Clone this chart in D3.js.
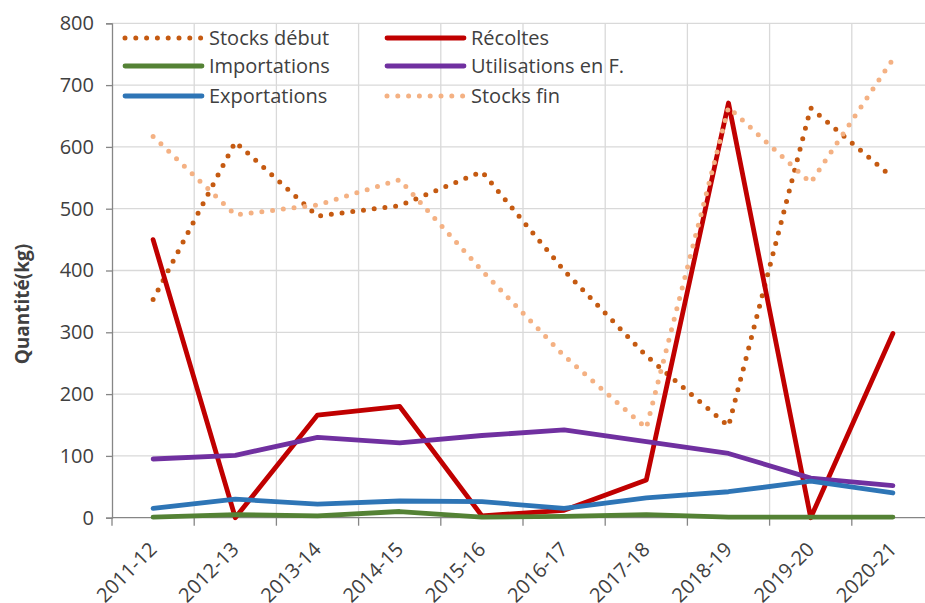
<!DOCTYPE html>
<html>
<head>
<meta charset="utf-8">
<script src="https://cdn.jsdelivr.net/npm/d3@7"></script>
<style>
  body { margin: 0; background: #fff; }
  text { font-family: "Open Sans", sans-serif; fill: #404040; }
</style>
</head>
<body>
<svg width="925" height="603"></svg>
<script>
var years = ['2011-12', '2012-13', '2013-14', '2014-15', '2015-16', '2016-17', '2017-18', '2018-19', '2019-20', '2020-21'];

var stocksDebut = [353, 608, 488, 505, 560, 400, 262, 148, 663, 550];
var recoltes = [450, 0, 166, 180, 3, 12, 61, 671, 0, 298];
var importations = [1, 5, 3, 10, 1, 2, 5, 1, 1, 1];
var utilisations = [95, 101, 130, 121, 133, 142, 123, 104, 64, 52];
var exportations = [15, 30, 22, 27, 26, 15, 32, 42, 59, 40];
var stocksFin = [617, 490, 506, 547, 400, 262, 145, 664, 542, 742];

var yTicks = [0, 100, 200, 300, 400, 500, 600, 700, 800];

var series = [
  { name: 'Stocks début', values: stocksDebut, color: '#c55a11', dotted: true },
  { name: 'Récoltes', values: recoltes, color: '#c00000', dotted: false },
  { name: 'Importations', values: importations, color: '#548235', dotted: false },
  { name: 'Utilisations en F.', values: utilisations, color: '#7030a0', dotted: false },
  { name: 'Exportations', values: exportations, color: '#2e75b6', dotted: false },
  { name: 'Stocks fin', values: stocksFin, color: '#f4b183', dotted: true }
];

var svg = d3.select('svg');
var plotLeft = 112, plotRight = 934, plotTop = 23.3, plotBottom = 517.7;

var x = d3.scaleBand()
  .domain(years)
  .range([plotLeft, plotRight]);

var y = d3.scaleLinear()
  .domain([0, 800])
  .range([plotBottom, plotTop]);

// grid
svg.append('g')
  .selectAll('line')
  .data(yTicks.filter(d => d > 0))
  .enter().append('line')
  .attr('x1', plotLeft).attr('x2', plotRight)
  .attr('y1', d => y(d)).attr('y2', d => y(d))
  .attr('stroke', '#d9d9d9').attr('stroke-width', 1.3);

svg.append('g')
  .selectAll('line')
  .data(d3.range(1, years.length + 1))
  .enter().append('line')
  .attr('x1', i => plotLeft + i * x.step())
  .attr('x2', i => plotLeft + i * x.step())
  .attr('y1', plotTop).attr('y2', plotBottom)
  .attr('stroke', '#d9d9d9').attr('stroke-width', 1.3);

// axes
var yAxis = svg.append('g')
  .attr('transform', 'translate(' + plotLeft + ',0)')
  .call(d3.axisLeft(y).tickValues(yTicks).tickSize(6).tickPadding(12));
yAxis.select('.domain').attr('stroke', '#868686').attr('stroke-width', 1.3);
yAxis.selectAll('.tick line').attr('stroke', '#868686').attr('stroke-width', 1.3);
yAxis.selectAll('.tick text')
  .attr('font-size', 20)
  .attr('font-family', '"Open Sans", sans-serif')
  .attr('fill', '#404040');

var xAxis = svg.append('g')
  .attr('transform', 'translate(0,' + plotBottom + ')');
xAxis.append('line')
  .attr('x1', plotLeft).attr('x2', plotRight)
  .attr('stroke', '#868686').attr('stroke-width', 1.3);
xAxis.selectAll('line.tk')
  .data(d3.range(years.length + 1))
  .enter().append('line')
  .attr('class', 'tk')
  .attr('x1', i => plotLeft + i * x.step())
  .attr('x2', i => plotLeft + i * x.step())
  .attr('y1', 0).attr('y2', 8)
  .attr('stroke', '#868686').attr('stroke-width', 1.3);
xAxis.selectAll('text')
  .data(years)
  .enter().append('text')
  .attr('transform', d => 'translate(' + (x(d) + x.bandwidth() / 2 - 5) + ',23) rotate(-45)')
  .attr('text-anchor', 'end')
  .attr('dy', '0.7em')
  .attr('font-size', 20)
  .text(d => d);

// y title
svg.append('text')
  .attr('transform', 'translate(29,304) rotate(-90)')
  .attr('text-anchor', 'middle')
  .attr('font-size', 19)
  .attr('font-weight', 'bold')
  .attr('fill', '#000')
  .text('Quantité(kg)');

// lines
var line = d3.line()
  .x((d, i) => x(years[i]) + x.bandwidth() / 2)
  .y(d => y(d));

svg.append('g')
  .selectAll('path')
  .data(series)
  .enter().append('path')
  .attr('d', d => line(d.values))
  .attr('fill', 'none')
  .attr('stroke', d => d.color)
  .attr('stroke-width', d => d.dotted ? 5 : 4.8)
  .attr('stroke-linecap', 'round')
  .attr('stroke-linejoin', 'round')
  .attr('stroke-dasharray', d => d.dotted ? '0 10.8' : null);

// legend
var legendX = [125, 387];
var legendY = [38, 66, 96];

var legend = svg.append('g')
  .selectAll('g')
  .data(series)
  .enter().append('g')
  .attr('transform', (d, i) => 'translate(' + legendX[i % 2] + ',' + legendY[Math.floor(i / 2)] + ')');

legend.append('line')
  .attr('x1', 0).attr('x2', 77)
  .attr('stroke', d => d.color)
  .attr('stroke-width', d => d.dotted ? 5 : 4.8)
  .attr('stroke-linecap', 'round')
  .attr('stroke-dasharray', d => d.dotted ? '0 10.8' : null);

legend.append('text')
  .attr('x', 84)
  .attr('dy', '0.35em')
  .attr('font-size', 20)
  .text(d => d.name);
</script>
</body>
</html>
